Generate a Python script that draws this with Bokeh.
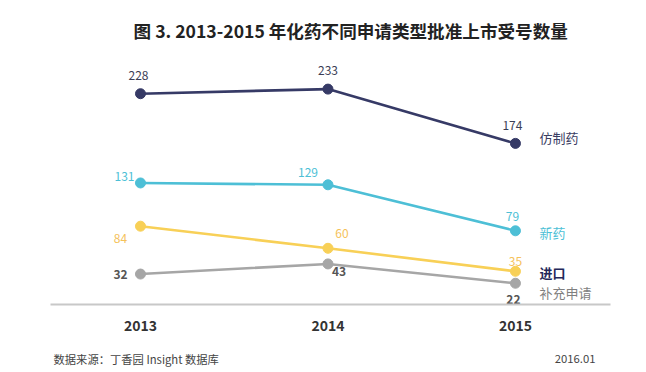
from bokeh.plotting import figure
from bokeh.layouts import column
from bokeh.models import Range1d, FixedTicker, ColumnDataSource
from bokeh.core.properties import value
from bokeh.embed import file_html
from bokeh.resources import INLINE

years = [2013, 2014, 2015]
generic = [228, 233, 174]      # 仿制药
new_drug = [131, 129, 79]      # 新药
imported = [84, 60, 35]        # 进口
supplement = [32, 43, 22]      # 补充申请
series_names = ["仿制药", "新药", "进口", "补充申请"]
series_values = [generic, new_drug, imported, supplement]

title_text = "图 3. 2013-2015 年化药不同申请类型批准上市受号数量"
source_text = "数据来源：丁香园 Insight 数据库"
date_text = "2016.01"

# styles
line_colors = ["#363a66", "#4dbfd6", "#f8d057", "#a6a6a6"]
value_colors = ["#3b3e55", "#4dbfd6", "#f5c25a", "#555555"]
name_colors = ["#3a3d62", "#4dbfd6", "#24285a", "#7f7f7f"]
name_styles = ["normal", "normal", "bold", "normal"]
value_styles = ["normal", "normal", "normal", "bold"]
value_dx = [[-2, 0, -3], [-16, -20, -3], [-20, 14, 0], [-20, 11, -2]]
value_dy = [[-18, -19, -18], [-6, -12, -14], [12, -15, -10], [0, 8, 16]]
name_dy = [-6, 2, 1, 9]

FONT = "Noto Sans CJK SC"

p = figure(width=646, height=340, output_backend="svg", toolbar_location=None,
           title_location=None,
           x_range=Range1d(2012.52, 2015.507), y_range=Range1d(-1.1, 329.3),
           min_border_left=50, min_border_right=36, min_border_top=0,
           min_border_bottom=36)
p.outline_line_color = None
p.grid.visible = False
p.yaxis.visible = False
p.background_fill_color = "white"
p.border_fill_color = "white"

xa = p.xaxis[0]
xa.ticker = FixedTicker(ticks=years)
xa.major_label_overrides = {y: str(y) for y in years}
xa.axis_line_color = "#c8c8c8"
xa.axis_line_width = 2
xa.major_tick_line_color = None
xa.minor_tick_line_color = None
xa.major_label_standoff = 9
xa.major_label_text_font = FONT
xa.major_label_text_font_style = "bold"
xa.major_label_text_font_size = "14px"
xa.major_label_text_color = "#333333"

for i, (name, vals) in enumerate(zip(series_names, series_values)):
    src = ColumnDataSource(dict(x=years, y=vals, t=[str(v) for v in vals],
                                dx=value_dx[i], dy=value_dy[i]))
    p.line("x", "y", source=src, line_color=line_colors[i], line_width=2.6)
    p.scatter("x", "y", source=src, size=10, fill_color=line_colors[i],
              line_color=line_colors[i])
    p.text("x", "y", text="t", source=src, x_offset="dx", y_offset="dy",
           text_align="center", text_baseline="middle",
           text_font=value(FONT), text_font_size="12px",
           text_font_style=value_styles[i], text_color=value_colors[i])
    p.text(x=[years[-1]], y=[vals[-1]], text=[name], x_offset=24, y_offset=name_dy[i],
           text_align="left", text_baseline="middle",
           text_font=value(FONT), text_font_size="13px",
           text_font_style=name_styles[i], text_color=name_colors[i])

# chart title inside the (borderless) top of the frame
p.text(x=[2012.963], y=[296.7], text=[title_text], text_align="left",
       text_baseline="middle", text_font=value(FONT), text_font_size="17.6px",
       text_font_style="bold", text_color="#222222")

# footer strip (frame is aligned with the chart frame by the column layout)
f = figure(width=646, height=32, output_backend="svg", toolbar_location=None,
           title_location=None, x_range=Range1d(50, 610), y_range=Range1d(32, 0),
           min_border_left=50, min_border_right=36, min_border_top=0,
           min_border_bottom=0)
f.outline_line_color = None
f.grid.visible = False
f.axis.visible = False
f.text(x=[53], y=[18], text=[source_text], text_align="left", text_baseline="middle",
       text_font=value(FONT), text_font_size="11.3px", text_color="#444444")
f.text(x=[595], y=[18], text=[date_text], text_align="right", text_baseline="middle",
       text_font=value(FONT), text_font_size="11.3px", text_color="#444444")

layout = column(p, f, spacing=0)
open("out.html", "w").write(file_html(layout, INLINE))
